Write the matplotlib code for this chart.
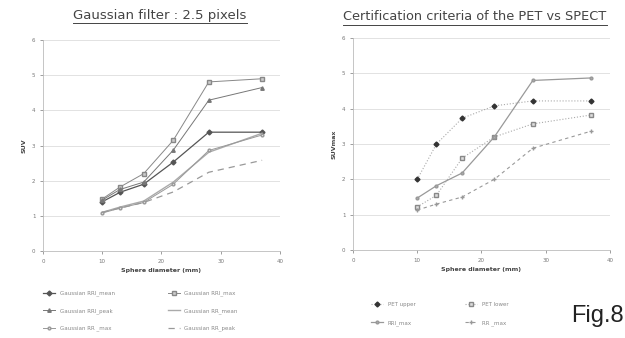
import matplotlib
matplotlib.use("Agg")
import matplotlib.pyplot as plt
from matplotlib.lines import Line2D

# sphere diameters (mm)
diam = [10, 13, 17, 22, 28, 37]

# left chart: Gaussian filter 2.5 pixels
rri_mean = [1.40, 1.67, 1.90, 2.53, 3.38, 3.38]
rri_max = [1.48, 1.82, 2.20, 3.15, 4.81, 4.90]
rri_peak = [1.45, 1.75, 1.96, 2.87, 4.29, 4.65]
rr_mean = [1.10, 1.25, 1.42, 1.96, 2.81, 3.35]
rr_max = [1.08, 1.22, 1.38, 1.90, 2.86, 3.30]
rr_peak = [1.10, 1.22, 1.38, 1.68, 2.24, 2.58]

# right chart: certification criteria
pet_upper = [2.00, 3.00, 3.73, 4.08, 4.22, 4.22]
pet_lower = [1.22, 1.55, 2.60, 3.20, 3.57, 3.82]
cert_rri_max = [1.47, 1.82, 2.18, 3.20, 4.80, 4.87]
cert_rr_max = [1.13, 1.30, 1.50, 2.00, 2.88, 3.36]

y_ticks = [0, 1, 2, 3, 4, 5, 6]
x_ticks = [0, 10, 20, 30, 40]

plt.rcParams['font.family'] = ['DejaVu Sans']

fig = plt.figure(figsize=(6.25, 3.38), dpi=100)
axL = fig.add_axes([0.0688, 0.2574, 0.379, 0.624])
axR = fig.add_axes([0.5648, 0.2604, 0.411, 0.627])


def style_axes(ax):
    ax.set_xlim(0, 40)
    ax.set_ylim(0, 6)
    ax.set_xticks(x_ticks)
    ax.set_yticks(y_ticks)
    ax.tick_params(labelsize=4, colors='#777777', length=2, width=0.5)
    ax.grid(axis='y', color='#dddddd', lw=0.6)
    ax.set_axisbelow(True)
    for s in ['top', 'right']:
        ax.spines[s].set_visible(False)
    for s in ['left', 'bottom']:
        ax.spines[s].set_color('#bbbbbb')
        ax.spines[s].set_linewidth(0.6)
    ax.set_xlabel('Sphere diameter (mm)', fontsize=4.5, fontweight='bold',
                  color='#444444', labelpad=3)


style_axes(axL)
style_axes(axR)
axL.set_ylabel('SUV', fontsize=4.5, fontweight='bold', color='#444444')
axR.set_ylabel('SUVmax', fontsize=4.5, fontweight='bold', color='#444444')

# left series
h1, = axL.plot(diam, rri_mean, '-D', color='#555555', lw=0.9, ms=2.5, label='Gaussian RRI_mean')
h2, = axL.plot(diam, rri_max, '-s', color='#888888', lw=0.7, ms=2.5, mfc='#cccccc', label='Gaussian RRI_max')
h3, = axL.plot(diam, rri_peak, '-^', color='#777777', lw=0.7, ms=2.5, label='Gaussian RRI_peak')
h4, = axL.plot(diam, rr_mean, '-', color='#aaaaaa', lw=1.0, label='Gaussian RR_mean')
h5, = axL.plot(diam, rr_max, '-o', color='#999999', lw=0.7, ms=2, mfc='#dddddd', label='Gaussian RR _max')
h6, = axL.plot(diam, rr_peak, '--', color='#999999', lw=0.9, dashes=(5, 4), label='Gaussian RR_peak')

# Excel style legend, filled row by row
hl = [h1, h3, h5, h2, h4, h6]
axL.legend(handles=hl, ncol=2, loc='upper left', bbox_to_anchor=(-0.02, -0.165),
           fontsize=4, frameon=False, columnspacing=9.5, handlelength=2.2,
           labelspacing=2.1, labelcolor='#888888')

# right series
r1, = axR.plot(diam, pet_upper, ':D', color='#aaaaaa', lw=0.8, ms=2.5, mfc='#333333', mec='#333333', label='PET upper')
r2, = axR.plot(diam, pet_lower, ':s', color='#aaaaaa', lw=0.8, ms=2.8, mfc='#dddddd', mec='#888888', label='PET lower')
r3, = axR.plot(diam, cert_rri_max, '-o', color='#999999', lw=0.9, ms=2, mfc='#aaaaaa', label='RRI_max')
r4, = axR.plot(diam, cert_rr_max, '--+', color='#999999', lw=0.8, ms=3, dashes=(3, 3), label='RR _max')

axR.legend(handles=[r1, r3, r2, r4], ncol=2, loc='upper left', bbox_to_anchor=(0.05, -0.22),
           fontsize=4, frameon=False, columnspacing=9, handlelength=2.2,
           labelspacing=2.4, labelcolor='#888888')

# titles with underline
tL = fig.text(0.256, 0.955, 'Gaussian filter : 2.5 pixels', ha='center', va='center',
              fontsize=9.5, color='#444444')
tR = fig.text(0.760, 0.950, 'Certification criteria of the PET vs SPECT', ha='center', va='center',
              fontsize=9.3, color='#444444')
fig.canvas.draw()
rend = fig.canvas.get_renderer()
for t in (tL, tR):
    bb = t.get_window_extent(rend).transformed(fig.transFigure.inverted())
    fig.add_artist(Line2D([bb.x0, bb.x1], [bb.y0 - 0.004, bb.y0 - 0.004],
                          transform=fig.transFigure, color='#444444', lw=0.7))

fig.text(0.998, 0.065, 'Fig.8', ha='right', va='center', fontsize=17,
         family=['Liberation Sans', 'DejaVu Sans'], color='#222222')

fig.savefig('out.png', dpi=100)
